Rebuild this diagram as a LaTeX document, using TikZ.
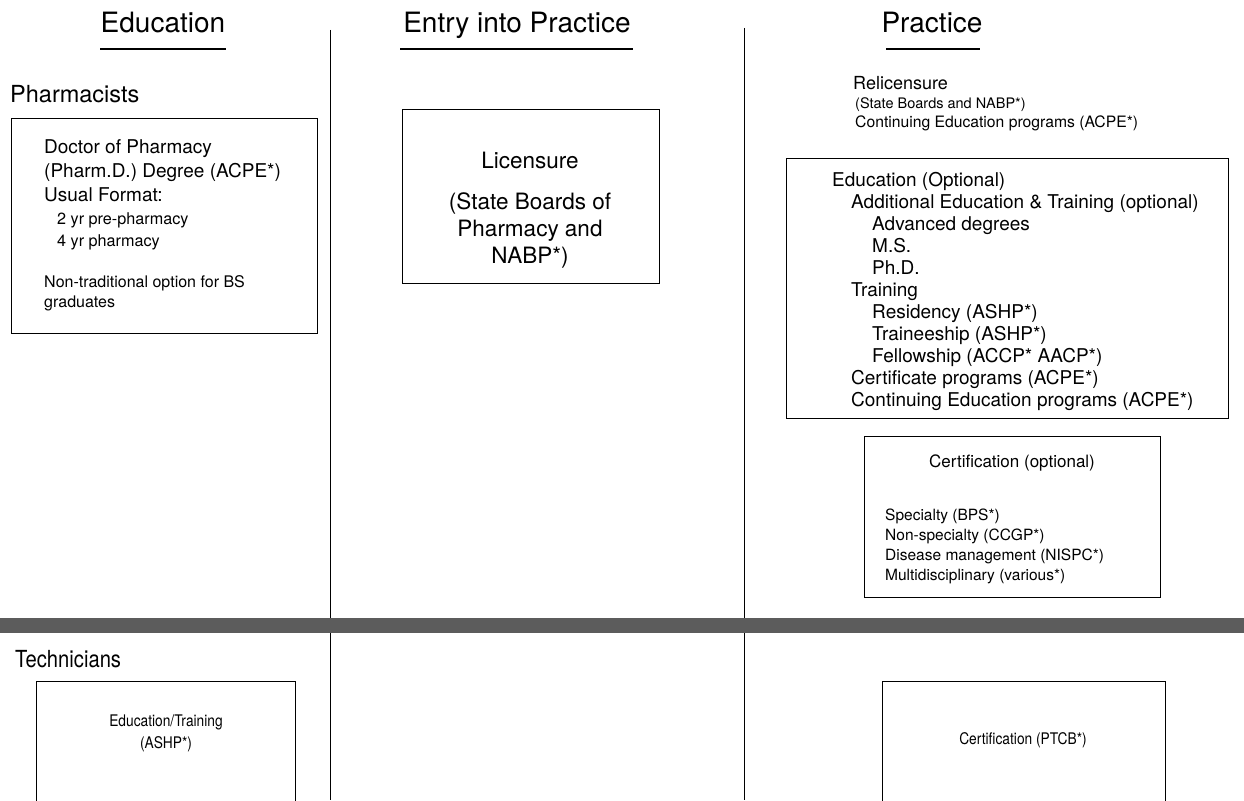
\documentclass[tikz,border=0pt]{standalone}
\usepackage{fontspec}
\setmainfont{TeX Gyre Heros}
\newfontfamily\narrowfont[FakeStretch=0.86]{TeX Gyre Heros}
\begin{document}
\begin{tikzpicture}[x=1pt,y=-1pt,
  box/.style={draw, line width=1.1pt, inner sep=0pt, anchor=north west},
  head/.style={inner sep=0pt, font=\fontsize{28}{32}\selectfont, anchor=base},
  uline/.style={line width=1.4pt},
  vline/.style={line width=0.9pt},
  group/.style={inner sep=0pt, font=\fontsize{23.5}{26}\selectfont, anchor=base west},
  line/.style={inner sep=0pt, anchor=base west}]
\useasboundingbox (0,0) rectangle (1244,800);
\clip (0,0) rectangle (1244,800);
% headers
\node[head] (hedu) at (163,33) {Education};
\node[head] (hent) at (517,33) {Entry into Practice};
\node[head] (hpra) at (932,33) {Practice};
\coordinate (u1a) at (100,49); \coordinate (u1b) at (226,49);
\coordinate (u2a) at (400,49); \coordinate (u2b) at (633,49);
\coordinate (u3a) at (886,49); \coordinate (u3b) at (980,49);
\draw[uline] (u1a) -- (u1b);
\draw[uline] (u2a) -- (u2b);
\draw[uline] (u3a) -- (u3b);
% column lines
\coordinate (v1t) at (330,30); \coordinate (v1b) at (330,800);
\coordinate (v2t) at (744,28); \coordinate (v2b) at (744,800);
\draw[vline] (v1t) -- (v1b);
\draw[vline] (v2t) -- (v2b);
% separator bar
\fill[black!64] (0,618) rectangle (1244,633);
% Pharmacists
\node[group] (gph) at (10,102) {Pharmacists};
\node[box, minimum width=306pt, minimum height=215pt] (pbox) at (11,118) {};
\begin{scope}[every node/.style={line, font=\fontsize{19}{22}\selectfont}]
\node (p1) at (44,153) {Doctor of Pharmacy};
\node (p2) at (44,177) {(Pharm.D.) Degree (ACPE*)};
\node (p3) at (44,201) {Usual Format:};
\end{scope}
\begin{scope}[every node/.style={line, font=\fontsize{16.2}{20}\selectfont}]
\node (p4) at (57,224) {2 yr pre-pharmacy};
\node (p5) at (57,246) {4 yr pharmacy};
\end{scope}
\begin{scope}[every node/.style={line, font=\fontsize{16}{20}\selectfont}]
\node (p6) at (44,287) {Non-traditional option for BS};
\node (p7) at (44,307) {graduates};
\end{scope}
% Licensure
\node[box, minimum width=257pt, minimum height=174pt] (lbox) at (402,109) {};
\node[inner sep=0pt, font=\fontsize{22.5}{27}\selectfont] (lA) at (530,160) {Licensure};
\node[inner sep=0pt, align=center, font=\fontsize{22.5}{27}\selectfont, anchor=north] (lB) at (530,192)
  {(State Boards of\\Pharmacy and\\NABP*)};
% Relicensure
\node[line, font=\fontsize{18}{22}\selectfont] (rA) at (853,89) {Relicensure};
\node[line, font=\fontsize{14.5}{18}\selectfont] (rB) at (855,108) {(State Boards and NABP*)};
\node[line, font=\fontsize{15.7}{18}\selectfont] (rC) at (855,127) {Continuing Education programs (ACPE*)};
% Education optional
\node[box, minimum width=442pt, minimum height=260pt] (ebox) at (786,158) {};
\begin{scope}[every node/.style={line, font=\fontsize{19}{22}\selectfont}]
\node (e1) at (832,186) {Education (Optional)};
\node (e2) at (851,208) {Additional Education \& Training (optional)};
\node (e3) at (872,230) {Advanced degrees};
\node (e4) at (872,252) {M.S.};
\node (e5) at (872,274) {Ph.D.};
\node (e6) at (851,296) {Training};
\node (e7) at (872,318) {Residency (ASHP*)};
\node (e8) at (872,340) {Traineeship (ASHP*)};
\node (e9) at (872,362) {Fellowship (ACCP* AACP*)};
\node (e10) at (851,384) {Certificate programs (ACPE*)};
\node (e11) at (851,406) {Continuing Education programs (ACPE*)};
\end{scope}
% Certification optional
\node[box, minimum width=296pt, minimum height=161pt] (cbox) at (864,436) {};
\node[inner sep=0pt, font=\fontsize{17}{20}\selectfont] (c0) at (1012,463) {Certification (optional)};
\begin{scope}[every node/.style={line, font=\fontsize{15.5}{18}\selectfont}]
\node (c1) at (885,520) {Specialty (BPS*)};
\node (c2) at (885,540) {Non-specialty (CCGP*)};
\node (c3) at (885,560) {Disease management (NISPC*)};
\node (c4) at (885,580) {Multidisciplinary (various*)};
\end{scope}
% Technicians
\node[group, font=\narrowfont\fontsize{23.5}{26}\selectfont] (gte) at (15,667) {Technicians};
\node[box, minimum width=259pt, minimum height=140pt] (tbox) at (36,681) {};
\node[inner sep=0pt, align=center, font=\narrowfont\fontsize{16}{22}\selectfont] (tA) at (166,733)
  {Education/Training\\(ASHP*)};
\node[box, minimum width=283pt, minimum height=140pt] (kbox) at (882,681) {};
\node[inner sep=0pt, font=\narrowfont\fontsize{16}{20}\selectfont] (kA) at (1023,740) {Certification (PTCB*)};
\end{tikzpicture}
\end{document}
